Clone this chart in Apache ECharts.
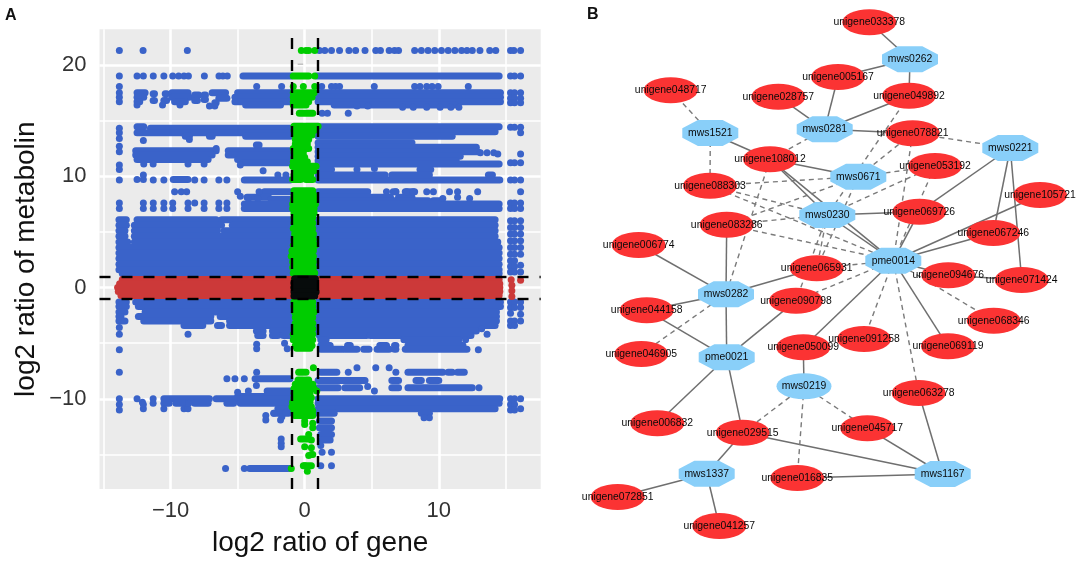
<!DOCTYPE html>
<html><head><meta charset="utf-8">
<style>html,body{margin:0;padding:0;background:#fff}#c{width:1084px;height:574px}</style>
<script src="https://cdn.jsdelivr.net/npm/echarts@6/dist/echarts.min.js"></script>
</head><body><div id="c"></div>
<script>
// ---------- Panel A: tick labels and reference values ----------
const xTicks = [-10, 0, 10];
const yTicks = [-10, 0, 10, 20];
const xMinorGrid = [-15, -5, 5, 15];
const yMinorGrid = [-15, -5, 5, 15];
const cutoffs = [-1, 1];

// Dense horizontal runs of overlapping points: [y, xFrom, xTo]
const blueRuns = [
 [19,-4.6,-1],[19,0.9,14.5],
 [17.5,-5,-1],[17.1,-5.2,-1],[16.7,-5.2,-1],[16.4,-4.4,-1.8],
 [17.5,-12.5,-11.9],[17.1,-12.5,-12],[16.7,-12.5,-12.3],[17.4,-11.3,-11.2],[16.8,-11.3,-11.2],
 [17.4,-10.4,-10.3],[16.8,-10.5,-10.3],[17.5,-9.9,-8.7],[17.1,-9.9,-8.6],[16.7,-9.7,-8.9],
 [17.3,-8.2,-7.9],[16.8,-8.2,-8],[17.3,-7.5,-7.4],[16.9,-7.5,-7.4],[17.5,-6.9,-5.9],[17,-6.4,-5.8],[16.6,-6.7,-6.6],
 [17.5,1,14.6],[17.1,1,14.6],[16.7,1,14.6],[16.4,2.2,11.2],
 [14.45,-12.5,-12],[14.3,-11.5,-1.1],[13.9,-12.5,-1.1],[13.6,-8.9,-8.6],[13.6,-7.1,-6.9],[13.6,-4.4,-1.1],
 [14.45,1,14.5],[14.0,1,14.2],[13.6,1,11],
 [12.3,-12.6,-6.6],[11.9,-12.6,-6.9],[11.5,-12.5,-7.2],[12.3,-5.7,-1.1],[11.9,-5.7,-1.1],[11.5,-5,-1.1],[11.2,-4.6,-1.1],
 [12.8,-3.6,-3.4],
 [13.0,1,8],[12.6,1,12.8],[12.2,1,12.9],[11.8,1,11.6],[11.4,1,11.3],[11.1,1,14.5],[10.6,1.2,2],[10.6,8.6,9.4],
 [9.67,-4.5,-1.1],[9.67,1,14.55],[10.1,1,6],[10.1,6.5,9.3],[10.1,13.7,14],
 [9.7,-9.8,-8.7],
 [8.6,-3,-1.1],[8.6,1,4.7],[8.1,-4.3,-2.7],[8.1,1,6.4],[8.1,7,8],[7.9,-2.5,-1.1],[7.8,1,9.2],[7.8,9.6,10.2],
 [7.5,-4.5,-1.1],[7.5,1,14.5],[7.1,-4.5,-1.1],[7.1,1,14.5],[8.6,6.6,6.8],[8.6,7.5,8.2],
 [6.1,-13.85,-13.3],[6.1,-12.5,-6.6],[6.1,-6.2,-1.1],[6.1,1,14.2],
 [5.6,-13.85,-13.3],[5.6,-12.7,-6.2],[5.6,-5.4,-1.1],[5.6,1,14.2],
 [5.1,-13.85,-13.4],[5.1,-12.7,-6.5],[5.1,-6,-1.1],[5.1,1,14.2],
 [4.6,-13.85,-13.4],[4.6,-12.7,-1.1],[4.6,1,14.2],
 [4.1,-13.85,-13.2],[4.1,-12.7,-1.1],[4.1,1,14.4],
 [3.6,-13.85,-1.1],[3.6,1,14.5],[3.1,-13.85,-1.1],[3.1,1,14.5],
 [2.6,-13.85,-1.1],[2.6,1,14.5],[2.1,-13.85,-1.1],[2.1,1,14.5],[1.6,-13.85,-1.1],[1.6,1,14.5],[1.25,-13.6,-1.1],[1.25,1,14.5],
 [-1.3,-13.85,-13.3],[-1.3,-12.6,-1.1],[-1.3,1,14.6],[-1.7,-13.85,-13.3],[-1.7,-12.4,-1.1],[-1.7,1,14.6],
 [-2.2,-13.85,-13.4],[-2.2,-11.9,-1.1],[-2.2,1,14.3],[-2.6,-13.85,-13.7],[-2.6,-12.4,-7],[-2.6,-6.3,-1.1],[-2.6,1,14.3],
 [-3.0,-13.85,-13.4],[-3.0,-12,-7],[-3.0,-5.6,-1.1],[-3.0,1,14.3],[-3.4,-9,-7.6],[-3.4,-6.5,-6.2],[-3.4,-5.6,-1.1],[-3.4,1,14.2],
 [-3.9,-3.6,-3.1],[-3.9,-2.4,-1.1],[-3.9,1,12.8],[-4.3,-3.5,-3.1],[-4.3,-2.4,-2],[-4.3,-1.6,-1.1],[-4.3,1.1,4.6],[-4.3,4.9,12.4],
 [-4.7,1.2,1.6],[-4.7,7.4,11.5],
 [-5.2,1.2,1.9],[-5.2,3.2,3.4],[-5.2,5.6,6.1],[-5.2,6.7,6.8],[-5.2,7.7,11.8],
 [-5.55,1.2,2.8],[-5.55,3,3.9],[-5.55,4.4,4.8],[-5.55,5.4,6.3],[-5.55,6.7,6.8],[-5.55,7.5,12.1],
 [-8.2,-3.7,-1.1],[-7.6,1.2,2.4],[-7.6,7.7,10.3],[-7.6,10.7,11],[-7.6,11.4,11.9],
 [-8.35,1,4.5],[-8.35,6.5,7],[-8.35,8.3,8.7],[-8.35,9.3,10],[-9,1,2.5],[-9,3,4.1],[-9,6.5,7],[-9,7.7,12.5],
 [-9.3,-2.8,-1.1],[-9.8,-5,-1.1],
 [-10,-10.5,-7.1],[-10,-6.6,-1.1],[-10,1,14.55],[-10.4,-5.8,-5.3],[-10.4,-4.8,-1.1],[-10.4,-10.5,-10.1],[-10.4,-9.6,-8.9],[-10.4,1,14.5],[-10.4,-8.2,-7.2],
 [-10.9,-2,-1.1],[-10.9,1,14.2],[-11.3,1,2.2],[-11.3,8.7,9.3],[-11.3,-2.3,-1.2],
 [-12,1.1,2],[-12.6,1.1,2],[-13.2,1.2,2],[-13.7,1.3,1.9],
 [-16.26,-4.1,-1.1]
];
// Isolated blue points: [x, y]
const blueDots = [
 [-13.82,21.3],[-12.05,21.3],[-8.75,21.3],
 [1.1,21.3],[1.5,21.3],[2,21.3],[2.6,21.3],[3.3,21.3],[3.8,21.3],[4.5,21.3],[5.3,21.3],[5.65,21.3],[6.3,21.3],[6.7,21.3],[7,21.3],
 [8.2,21.3],[8.7,21.3],[9.2,21.3],[9.7,21.3],[10.2,21.3],[10.7,21.3],[11.2,21.3],[11.7,21.3],[12.1,21.3],[12.5,21.3],[13.07,21.3],[13.8,21.3],[14.25,21.3],[15.35,21.3],[15.6,21.3],[16.1,21.3],
 [-13.82,19],[-12.5,19],[-12.03,19],[-11.29,19],[-10.5,19],[-9.84,19],[-9.4,19],[-9,19],[-8.67,19],[-7.48,19],[-6.39,19],[-6.1,19],[-5.77,19],[15.35,19],[15.65,19],[16.1,19],
 [-13.82,18.06],[-3.58,18.06],[-1.72,18.06],[1.27,18.06],[2,18.06],[2.3,18.06],[2.6,18.06],[5.19,18.06],[8.2,18.06],[8.6,18.06],[9.1,18.06],[9.5,18.06],[9.95,18.06],[12.2,18.06],
 [-13.82,17.5],[-13.82,17.1],[-13.82,16.7],[-12.5,16.4],[-10.6,16.4],[-9.3,16.4],[-7.1,16.3],[-6.7,16.3],
 [15.35,17.5],[15.65,17.5],[15.35,17],[15.65,17],[15.35,16.6],[15.65,16.6],[16.1,17.5],[16.1,17],[16.1,16.6],
 [7.3,16.2],[8.1,16.2],[9.1,16.2],[10.1,16.2],[10.9,16.2],[11.5,16.2],[3.9,16.3],[4.7,16.3],
 [1.3,15.66],[1.7,15.66],[3.25,15.66],
 [-13.82,14.3],[-13.82,13.9],[-13.82,13.4],[-12.03,13.2],[15.35,14.4],[15.65,14.4],[16.1,14.4],[16.1,13.9],
 [-13.82,12.7],[-13.82,12.2],[-13.82,11],[-13.82,10.6],[-13.82,9.67],[-12.5,9.7],[-12.03,9.7],[-12.03,10.1],[-11.29,9.67],[-10.5,9.67],
 [-6.6,12.5],[-8.6,13.3],[-4.8,11],[-12,11.1],[-11.3,11.1],[-8.7,11.1],[-7.5,11.1],
 [-6.4,9.67],[-5.8,9.67],[-7.5,9.67],[-8.2,9.67],[-3.1,10.5],[-2,10.1],[-1.4,10.1],
 [13.1,12.1],[13.6,12.1],[14.1,12.1],[14.4,12],[16.1,12],[15.35,11.2],[15.65,11.2],[16.1,11.2],[15.35,9.67],[15.65,9.67],[16.1,9.67],
 [3.9,10.6],[5.2,10.7],
 [-9.7,8.6],[-9.2,8.6],[-8.8,8.6],[-5,8.6],[-4.8,8.2],[-4.2,8],[-3.5,8],[-3.4,8.6],
 [6.1,8.6],[6.8,8.6],[7.6,8.6],[8.1,8.6],[9.1,8.6],[9.6,8.6],[10.8,8.6],[11.4,8.6],[11.4,8.1],[12.9,8.6],[16.1,8.6],[12.3,8],[10.3,8],
 [-13.82,7.6],[-13.82,7.1],[-12.03,7.6],[-12.03,7.1],[-11.29,7.6],[-11.29,7.1],[-10.5,7.6],[-10.5,7.1],[-9.84,7.6],[-9.84,7.1],[-8.7,7.6],[-8.7,7.1],[-8.2,7.6],[-7.5,7.6],[-7.5,7.1],[-6.4,7.6],[-6.4,7.1],[-5.8,7.6],[-5.8,7.1],
 [15.35,7.6],[15.65,7.6],[15.35,7.1],[15.65,7.1],[16.1,7.6],[16.1,7.1],
 [15.35,6],[15.65,6],[16.1,6],[15.35,5.4],[15.65,5.4],[16.1,5.4],[15.35,4.8],[15.65,4.8],[16.1,4.8],[15.35,4.2],[15.65,4.2],[16.1,4.2],[15.35,3.6],[15.65,3.6],[16.1,3.6],[15.35,3],[15.65,3],[16.1,3],[15.35,2.4],[15.65,2.4],[15.35,1.9],[15.65,1.9],[16.1,2],[15.35,1.4],[15.65,1.4],[16.1,1.4],
 [-13.82,-3.6],[-13.82,-4.2],[-8.7,-4.2],[-13.82,-5.6],[-13.82,-7.6],[-3.58,-5.1],[-3.58,-5.5],[-3.58,-7.6],[-1.5,-5],[-1.3,-5.5],
 [-5.8,-8.2],[-5.2,-8.2],[-4.5,-8.2],[-3.6,-8.8],[-5,-9.4],[-4.2,-9.3],
 [15.35,-1.3],[15.65,-1.3],[16.1,-1.3],[15.35,-1.8],[15.65,-1.8],[16.1,-1.8],[15.35,-2.3],[16.1,-2.4],[15.35,-3],[15.65,-3],[16.1,-3],[15.35,-3.4],[15.65,-3.4],
 [3.25,-7.6],[3.9,-7.2],[5.3,-7.2],[6.3,-7.2],[6.8,-7.6],
 [12,-4.7],[13.6,-4.2],[13.2,-3.7],[12.95,-5.6],
 [5.2,-9.3],[4.7,-8.9],[13,-9],
 [-13.82,-10],[-13.82,-10.5],[-13.82,-11],[-12.5,-10],[-12.1,-10.3],[-12.03,-10.9],[-12.03,-10.5],[-11.3,-10],[-11.3,-10.4],[-10.5,-10.9],[-9,-10.9],[-8.7,-10.9],[-8.65,-10.4],
 [-2.9,-11.5],[-2.9,-11.9],[-1.8,-11.9],[-1.7,-11.6],[-1.4,-11.2],[-2.3,-11.3],
 [-1.75,-13.6],[-1.75,-14],[-1.75,-14.3],
 [-5.9,-16.26],[-4.5,-16.26],
 [15.35,-10],[15.65,-10],[16.1,-10],[15.35,-10.5],[15.65,-10.5],[15.35,-11],[15.65,-11],[16.1,-10.9],
 [9.3,-11.7],[8.9,-11.7],[1.2,-14.2],[1.3,-14.8],[2,-14.8],[1.2,-16],[2,-16]
];
const redRuns = [[0.72,-13.6,14.5],[0.35,-13.8,14.55],[0,-13.95,14.55],[-0.35,-13.9,14.55],[-0.72,-13.7,14.5]];
const redDots = [[15.4,0.7],[15.45,0.2],[15.45,-0.3],[15.45,-0.8],[16.1,0.65]];
const greenRuns = [
 [19,-0.85,0.3],[17.5,-0.85,0.7],[17.1,-0.85,0.55],[16.7,-0.85,0.3],[16.4,-0.85,0.1],[15.66,-0.4,0.6],
 [14.5,-0.8,1],[14.1,-0.8,0.7],[13.7,-0.75,0.55],[13.3,-0.7,0.3],[12.9,-0.7,0.2],[12.5,-0.85,0.3],[12.1,-0.8,-0.1],[11.7,-0.8,0],[11.3,-0.85,0.2],[10.9,-0.9,0.85],[10.5,-0.75,0.7],[10.1,-0.8,0.45],[9.7,-0.9,-0.3],[9.7,0.1,0.6],
 [8.7,-0.8,0.6],[8.3,-0.8,0.7],[7.9,-0.85,0.8],[7.5,-0.9,0.8],[7.1,-0.9,0.7],[6.7,-0.8,0.7],[6.3,-0.8,0.6],[5.8,-0.8,0.6],[5.3,-0.85,0.6],[4.8,-0.75,0.65],[4.3,-0.8,0.65],[3.8,-0.85,0.8],[3.3,-0.95,0.65],[2.8,-1,0.65],[2.3,-0.9,0.65],[1.8,-0.9,0.65],[1.3,-0.85,0.75],
 [-1.3,-0.8,0.6],[-1.7,-0.8,0.6],[-2.2,-0.75,0.7],[-2.7,-0.7,0.6],[-3.2,-0.7,0.6],[-3.7,-0.75,0.6],[-4.2,-0.85,0.6],[-4.7,-0.85,0.6],[-5.2,-0.7,0.55],[-5.45,-0.6,0.4],
 [-7.6,-0.45,0.1],[-8.3,-0.5,0.3],[-8.7,-0.7,0.6],[-9.1,-0.8,0.7],[-9.5,-0.8,0.4],[-9.9,-0.8,0.5],[-10.3,-0.9,0.4],[-10.7,-0.95,0.5],[-11.1,-0.8,0.6],[-11.5,-0.75,0.6],
 [-13.6,-0.3,0.3],[-16,-0.1,0.5]
];
const greenDots = [
 [-0.25,21.3],[0.1,21.3],[0.3,21.3],[0.75,21.3],[0.75,19],[-0.85,18.06],[-0.1,18.06],[0.75,18.06],[0.65,-7.2],[0.9,-9.3],
 [0,-12],[0,-12.3],[0.6,-12.2],[0.6,-12.6],[0.3,-13.2],[0.5,-13.7],[0,-14.3],[0.5,-14.4],[0.5,-15],[0.3,-15.1],[0.6,-15],[0,-16],[0.2,-16.5],[-1,-16.26]
];
const blackRuns = [[0.78,-0.75,0.8],[0.4,-0.8,0.8],[0,-0.8,0.8],[-0.4,-0.8,0.85],[-0.75,-0.8,0.75]];

// ---------- Panel B: network nodes ----------
const metaboliteNames = ['mws0262','mws1521','mws0281','mws0221','mws0671','mws0230','pme0014','mws0282','pme0021','mws1337','mws1167'];
const metaboliteX = [910,710.3,824.7,1010.3,858.3,827.3,893.3,726,726.7,706.7,942.7];
const metaboliteY = [59.3,133,129.3,148,176.7,215,260.7,294.3,357.3,473.7,474];
const roundMetaboliteNames = ['mws0219'];
const roundMetaboliteX = [804];
const roundMetaboliteY = [386.3];
const geneNames = ['unigene033378','unigene005167','unigene049892','unigene048717','unigene028757','unigene078821','unigene108012','unigene053192','unigene088303','unigene105721','unigene069726','unigene083286','unigene067246','unigene006774','unigene065931','unigene094676','unigene071424','unigene090798','unigene044158','unigene068346','unigene091258','unigene050099','unigene069119','unigene046905','unigene063278','unigene006832','unigene045717','unigene029515','unigene016835','unigene072851','unigene041257'];
const geneX = [869.3,838,909,670.7,778.3,912.7,770,935,710,1040,919.3,726.7,993.3,638.7,816.7,948.3,1021.7,796,646.7,993.7,864,803.3,948,641.3,918.7,657.3,867.3,742.7,797.3,617.7,719.3];
const geneY = [22.3,77,95.7,90.3,96.7,133.3,159.3,166,185.7,195,211.7,224.7,233,245,268.3,275.3,280,300.7,310.3,320.7,339,347.3,346.3,354,393,423.3,428.3,432.7,478,497,526];
const solidEdges = [
 ['033378','mws0262'],['mws0262','005167'],['mws0262','049892'],['005167','mws0281'],['028757','mws0281'],['mws0281','049892'],['mws0281','078821'],
 ['mws1521','108012'],['108012','mws0671'],['108012','mws0230'],['108012','pme0014'],['mws0230','069726'],['mws0230','pme0014'],['mws0221','069726'],['mws0221','067246'],['mws0221','071424'],
 ['105721','pme0014'],['067246','pme0014'],['069726','pme0014'],['pme0014','094676'],['094676','071424'],['pme0014','069119'],['pme0014','050099'],
 ['mws0282','065931'],['mws0282','006774'],['mws0282','083286'],['mws0282','044158'],['mws0282','pme0021'],['044158','pme0021'],['pme0021','090798'],['pme0021','006832'],['pme0021','029515'],
 ['050099','mws0219'],['029515','mws1337'],['029515','mws1167'],['mws1337','072851'],['mws1337','041257'],['063278','mws1167'],['045717','mws1167'],['016835','mws1167']
];
const dashedEdges = [
 ['048717','mws1521'],['mws1521','088303'],['mws0281','108012'],['088303','mws0671'],['088303','mws0230'],['088303','pme0014'],['083286','mws0671'],['083286','mws0230'],['083286','pme0014'],['108012','mws0282'],
 ['049892','mws0230'],['078821','mws0671'],['078821','mws0221'],['078821','pme0014'],['053192','mws0671'],['053192','mws0230'],['053192','pme0014'],
 ['mws0230','065931'],['mws0671','065931'],['mws0230','090798'],['pme0014','090798'],['pme0014','065931'],['pme0014','091258'],['pme0014','063278'],['pme0014','068346'],
 ['mws0282','046905'],['mws0219','029515'],['mws0219','016835'],['mws0219','045717']
];

// ---------- Chart ----------
const POINT = 7;
const toXY = (r) => [r[1], r[0], r[2], r[0]];
function runSeries(name, runs, color, z) {
  return {
    type: 'custom', name, xAxisIndex: 0, yAxisIndex: 0, z, silent: true, clip: true,
    data: runs.map(toXY), encode: {x: [0, 2], y: [1, 3]},
    renderItem(params, api) {
      const a = api.coord([api.value(0), api.value(1)]);
      const b = api.coord([api.value(2), api.value(3)]);
      return {type: 'line', shape: {x1: a[0], y1: a[1], x2: b[0], y2: b[1]},
              style: {stroke: color, lineWidth: POINT, lineCap: 'round', fill: null}};
    }
  };
}
function dotSeries(name, dots, color, z) {
  return {type: 'scatter', name, xAxisIndex: 0, yAxisIndex: 0, z, silent: true, data: dots,
          symbol: 'circle', symbolSize: POINT, itemStyle: {color, opacity: 1}, animation: false};
}
const octagon = 'path://M28,0 L72,0 L100,32 L100,68 L72,100 L28,100 L0,68 L0,32 Z';
const nameOf = (s) => /^\d/.test(s) ? 'unigene' + s : s;
const nodes = [];
metaboliteNames.forEach((n, i) => nodes.push({name: n, value: [metaboliteX[i], metaboliteY[i]], symbol: octagon, symbolSize: [56, 26], itemStyle: {color: '#89cff9'}}));
roundMetaboliteNames.forEach((n, i) => nodes.push({name: n, value: [roundMetaboliteX[i], roundMetaboliteY[i]], symbol: 'circle', symbolSize: [55, 26], itemStyle: {color: '#89cff9'}}));
geneNames.forEach((n, i) => nodes.push({name: n, value: [geneX[i], geneY[i]], symbol: 'circle', symbolSize: [54, 26], itemStyle: {color: '#fb3333'}}));
const links = [];
solidEdges.forEach(e => links.push({source: nameOf(e[0]), target: nameOf(e[1]), lineStyle: {type: 'solid', color: '#6f6f6f', width: 1.5}}));
dashedEdges.forEach(e => links.push({source: nameOf(e[0]), target: nameOf(e[1]), lineStyle: {type: [5, 4], color: '#7a7a7a', width: 1.4}}));
const gridMark = (vals, key, width) => vals.map(v => ({[key]: v, lineStyle: {color: '#fff', width, type: 'solid'}}));
const tickFmt = v => String(v).replace('-', '\u2212');

const chart = echarts.init(document.getElementById('c'), null, {renderer: 'canvas'});
chart.setOption({
  animation: false,
  backgroundColor: '#fff',
  title: [
    {text: 'A', left: 5, top: 8, padding: 0, textStyle: {fontFamily: 'Liberation Sans', fontSize: 16, fontWeight: 'bold', color: '#111'}},
    {text: 'B', left: 587, top: 7, padding: 0, textStyle: {fontFamily: 'Liberation Sans', fontSize: 16, fontWeight: 'bold', color: '#111'}}
  ],
  grid: [
    {left: 99.5, top: 29.3, width: 441.2, height: 459.7, show: true, backgroundColor: '#ebebeb', borderWidth: 0},
    {left: 0, top: 0, width: 1084, height: 574, show: false}
  ],
  xAxis: [
    {type: 'value', gridIndex: 0, min: -15.3, max: 17.6, name: 'log2 ratio of gene', nameLocation: 'middle', nameGap: 40,
     nameTextStyle: {fontFamily: 'Liberation Sans', fontSize: 28, color: '#111'},
     axisLine: {show: false}, splitLine: {show: false},
     axisTick: {show: true, customValues: xTicks, length: 7, lineStyle: {color: '#111', width: 2.2}},
     axisLabel: {customValues: xTicks, formatter: tickFmt, margin: 11, fontFamily: 'Liberation Sans', fontSize: 22, color: '#333'}},
    {type: 'value', gridIndex: 1, min: 0, max: 1084, show: false}
  ],
  yAxis: [
    {type: 'value', gridIndex: 0, min: -18.1, max: 23.2, name: 'log2 ratio of metabolin', nameLocation: 'middle', nameGap: 59,
     nameTextStyle: {fontFamily: 'Liberation Sans', fontSize: 28, color: '#111'},
     axisLine: {show: false}, splitLine: {show: false},
     axisTick: {show: true, customValues: yTicks, length: 7, lineStyle: {color: '#111', width: 2.2}},
     axisLabel: {customValues: yTicks, formatter: tickFmt, margin: 13, lineHeight: 30, fontFamily: 'Liberation Sans', fontSize: 22, color: '#333', verticalAlign: 'middle', padding: [5, 0, 0, 0]}},
    {type: 'value', gridIndex: 1, min: 0, max: 574, inverse: true, show: false}
  ],
  series: [
    {type: 'scatter', name: 'panel grid', xAxisIndex: 0, yAxisIndex: 0, data: [], z: 1, silent: true,
     markLine: {silent: true, symbol: 'none', label: {show: false}, animation: false, z: 1, data: [
       ...gridMark(xMinorGrid, 'xAxis', 1.6), ...gridMark(yMinorGrid, 'yAxis', 1.6),
       ...gridMark(xTicks, 'xAxis', 2.6), ...gridMark(yTicks, 'yAxis', 2.6)
     ]}},
    runSeries('blue', blueRuns, '#3a63c9', 2), dotSeries('blue points', blueDots, '#3a63c9', 2),
    runSeries('red', redRuns, '#cc3939', 3), dotSeries('red points', redDots, '#cc3939', 3),
    runSeries('green', greenRuns, '#00cc00', 4), dotSeries('green points', greenDots, '#00cc00', 4),
    runSeries('black', blackRuns, '#070b0b', 5),
    {type: 'scatter', name: 'cutoffs', xAxisIndex: 0, yAxisIndex: 0, data: [], z: 6, silent: true,
     markLine: {silent: true, symbol: 'none', label: {show: false}, animation: false, z: 6,
       lineStyle: {color: '#000', width: 2.4, type: [11, 11]},
       data: [...cutoffs.map(v => ({xAxis: v})), ...cutoffs.map(v => ({yAxis: v}))]}},
    {type: 'graph', name: 'network', coordinateSystem: 'cartesian2d', xAxisIndex: 1, yAxisIndex: 1, layout: 'none', z: 7, silent: true,
     data: nodes, links,
     label: {show: true, position: 'inside', fontFamily: 'Liberation Sans', fontSize: 10.4, color: '#0a0a0a', formatter: '{b}'},
     edgeSymbol: ['none', 'none'], lineStyle: {curveness: 0, opacity: 1}, itemStyle: {opacity: 1}}
  ]
});
</script></body></html>
